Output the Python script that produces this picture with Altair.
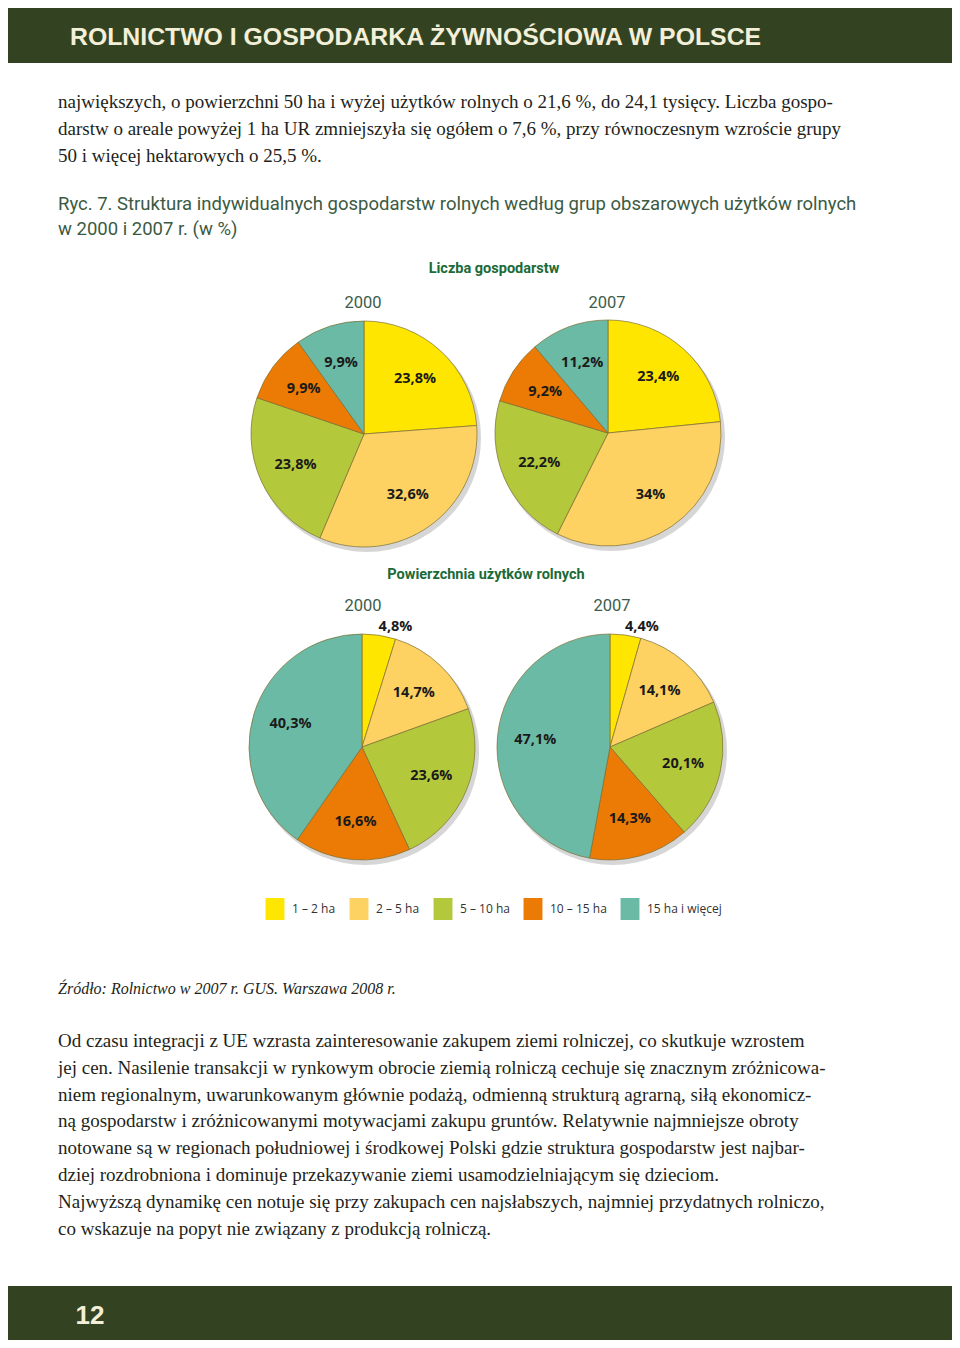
import altair as alt
import pandas as pd

# ---------------- data ----------------
categories = ["1 – 2 ha", "2 – 5 ha", "5 – 10 ha", "10 – 15 ha", "15 ha i więcej"]
colors = ["#ffe600", "#fdd262", "#b4c83c", "#ec7b05", "#6bbaa6"]

farms_2000 = [23.8, 32.6, 23.8, 9.9, 9.9]
farms_2007 = [23.4, 34.0, 22.2, 9.2, 11.2]
area_2000 = [4.8, 14.7, 23.6, 16.6, 40.3]
area_2007 = [4.4, 14.1, 20.1, 14.3, 47.1]

header_text = "ROLNICTWO I GOSPODARKA ŻYWNOŚCIOWA W POLSCE"
body1 = [
    "największych, o powierzchni 50 ha i wyżej użytków rolnych o 21,6 %, do 24,1 tysięcy. Liczba gospo-",
    "darstw o areale powyżej 1 ha UR zmniejszyła się ogółem o 7,6 %, przy równoczesnym wzroście grupy",
    "50 i więcej hektarowych o 25,5 %.",
]
caption = [
    "Ryc. 7. Struktura indywidualnych gospodarstw rolnych według grup obszarowych użytków rolnych",
    "w 2000 i 2007 r. (w %)",
]
title_farms = "Liczba gospodarstw"
title_area = "Powierzchnia użytków rolnych"
years = ["2000", "2007"]
source = "Źródło: Rolnictwo w 2007 r. GUS. Warszawa 2008 r."
body2 = [
    "Od czasu integracji z UE wzrasta zainteresowanie zakupem ziemi rolniczej, co skutkuje wzrostem",
    "jej cen. Nasilenie transakcji w rynkowym obrocie ziemią rolniczą cechuje się znacznym zróżnicowa-",
    "niem regionalnym, uwarunkowanym głównie podażą, odmienną strukturą agrarną, siłą ekonomicz-",
    "ną gospodarstw i zróżnicowanymi motywacjami zakupu gruntów. Relatywnie najmniejsze obroty",
    "notowane są w regionach południowej i środkowej Polski gdzie struktura gospodarstw jest najbar-",
    "dziej rozdrobniona i dominuje przekazywanie ziemi usamodzielniającym się dzieciom.",
    "Najwyższą dynamikę cen notuje się przy zakupach cen najsłabszych, najmniej przydatnych rolniczo,",
    "co wskazuje na popyt nie związany z produkcją rolniczą.",
]
page_number = "12"

# ---------------- table ----------------
def pct(v):
    return f"{v:g}".replace(".", ",") + "%"

rows = []
for panel, vals in [("f2000", farms_2000), ("f2007", farms_2007),
                    ("a2000", area_2000), ("a2007", area_2007)]:
    for i, (c, v) in enumerate(zip(categories, vals)):
        rows.append({"panel": panel, "cat": c, "idx": i, "value": v, "label": pct(v)})
df = pd.DataFrame(rows)

# ---------------- styles ----------------
W, H = 944, 1332
SERIF = "Liberation Serif, DejaVu Serif, serif"
NARROW = "Roboto, Liberation Sans, sans-serif"
SANS = "Liberation Sans, Arial, sans-serif"
LABEL = "Open Sans, Noto Sans, sans-serif"
BAND = "#334322"
CREAM = "#f3efd8"
R = 113

one = alt.Data(values=[{"k": 0}])


def txt(s, x, y, size, font, color, weight="normal", style="normal",
        align="left", baseline="alphabetic", lh=None):
    kw = dict(font=font, fontSize=size, color=color, fontWeight=weight,
              fontStyle=style, align=align, baseline=baseline)
    if lh is not None:
        kw["lineHeight"] = lh
    return alt.Chart(one).mark_text(**kw).encode(
        x=alt.value(x), y=alt.value(y), text=alt.value(s))


def band(y0, y1):
    return alt.Chart(one).mark_rect(color=BAND).encode(
        x=alt.value(0), x2=alt.value(W), y=alt.value(y0), y2=alt.value(y1))


legend = alt.Legend(
    orient="none", legendX=256, legendY=890, direction="horizontal", title=None,
    symbolType="M-0.86,-1L0.86,-1L0.86,1L-0.86,1Z", symbolSize=484,
    symbolStrokeWidth=0, symbolOpacity=1, labelFont=LABEL, labelFontSize=12,
    labelColor="#333333", labelOffset=6, columnPadding=12, padding=0,
)
color_enc = alt.Color("cat:N", scale=alt.Scale(domain=categories, range=colors),
                      legend=legend, sort=categories)


def pie(panel, cx, cy):
    base = alt.Chart(df).transform_filter(alt.datum.panel == panel).transform_stack(
        stack="value", groupby=["panel"], sort=[alt.SortField("idx")], as_=["v0", "v1"]
    ).transform_calculate(mid="(datum.v0 + datum.v1) / 2")
    tscale = alt.Scale(domain=[0, 100])
    shadow = alt.Chart(one).mark_circle(size=(2 * R + 2) ** 2, color="#000000",
                                        opacity=0.16).encode(
        x=alt.value(cx + 3), y=alt.value(cy + 4))
    arcs = base.mark_arc(radius=R, stroke="#7d6f34", strokeWidth=0.7).encode(
        theta=alt.Theta("v0:Q", scale=tscale, stack=None),
        theta2="v1:Q",
        color=color_enc,
        x=alt.value(cx), y=alt.value(cy),
    )
    inner = base.transform_filter(alt.datum.value >= 6).mark_text(
        font=LABEL, fontWeight="bold", fontSize=14.5, color="#1a1a1a").encode(
        theta=alt.Theta("mid:Q", scale=tscale, stack=None),
        radius=alt.value(75), text="label:N",
        x=alt.value(cx), y=alt.value(cy))
    outer = base.transform_filter(alt.datum.value < 6).mark_text(
        font=LABEL, fontWeight="bold", fontSize=14.5, color="#1a1a1a", dx=15, dy=2).encode(
        theta=alt.Theta("mid:Q", scale=tscale, stack=None),
        radius=alt.value(123), text="label:N",
        x=alt.value(cx), y=alt.value(cy))
    return [shadow, arcs, inner, outer]


layers = [
    band(0, 55),
    txt(header_text, 62, 37, 24.8, SANS, CREAM, weight="bold"),
    txt(body1, 50, 100, 19, SERIF, "#231f20", lh=27),
    txt(caption, 50, 202, 18.5, NARROW, "#3b5a43", lh=25),
    txt(title_farms, 486, 265, 14.5, NARROW, "#1b6a37", weight="bold", align="center"),
    txt(years[0], 355, 300, 16.5, NARROW, "#3d5c4b", align="center"),
    txt(years[1], 599, 300, 16.5, NARROW, "#3d5c4b", align="center"),
    txt(title_area, 478, 571, 14.5, NARROW, "#1b6a37", weight="bold", align="center"),
    txt(years[0], 355, 603, 16.5, NARROW, "#3d5c4b", align="center"),
    txt(years[1], 604, 603, 16.5, NARROW, "#3d5c4b", align="center"),
]
layers += pie("f2000", 356, 426)
layers += pie("f2007", 600, 425)
layers += pie("a2000", 354, 739)
layers += pie("a2007", 602, 739)
layers += [
    txt(source, 50, 986, 16, SERIF, "#231f20", style="italic"),
    txt(body2, 50, 1039, 19, SERIF, "#231f20", lh=26.8),
    band(1278, 1335),
    txt(page_number, 82, 1316, 26, SANS, CREAM, weight="bold", align="center"),
]

chart = alt.layer(*layers).properties(
    width=W, height=H, padding=0, autosize=alt.AutoSizeParams(type="none"),
    background="white",
).configure_view(stroke=None)

chart.save("out.html", embed_options={"renderer": "svg", "actions": False})
